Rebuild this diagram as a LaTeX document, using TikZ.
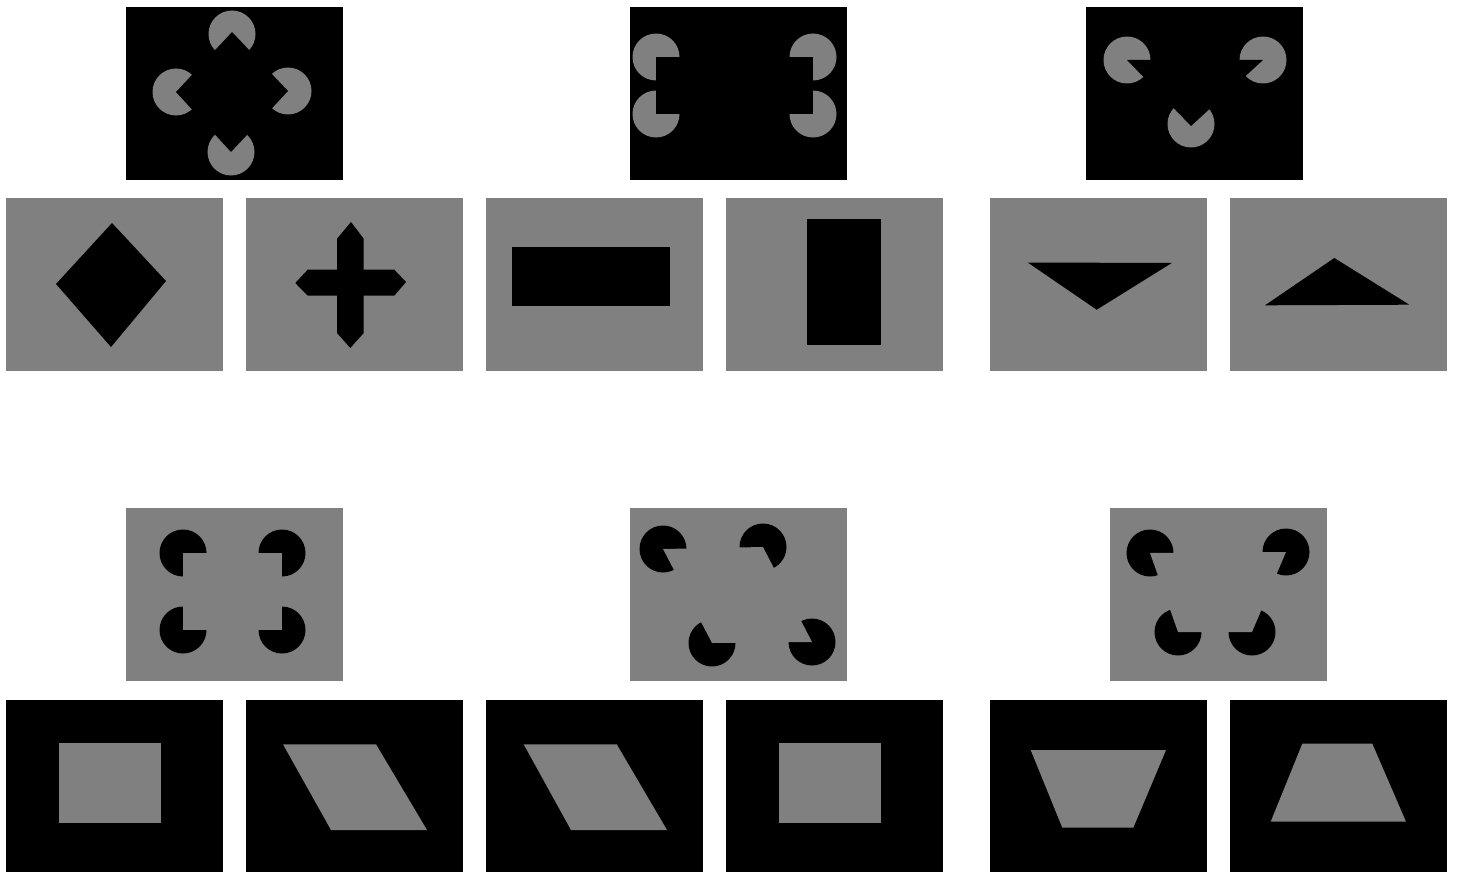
\documentclass[tikz,border=0pt]{standalone}
\definecolor{kgray}{RGB}{128,128,128}
\begin{document}
\begin{tikzpicture}[x=1pt,y=-1pt,
  darkpanel/.style={fill=black},
  greypanel/.style={fill=kgray},
  darkshape/.style={fill=black},
  greyshape/.style={fill=kgray}]
\useasboundingbox (0,0) rectangle (1458,872);
\fill[white] (0,0) rectangle (1458,872);
\def\R{23.5}
% ---------- row 1: inducers (grey pacmen on black) ----------
\fill[darkpanel] (126,7) rectangle (343,180);
\fill[greyshape] (232,34) circle (\R) (176,92) circle (\R) (288,91) circle (\R) (231,152) circle (\R);
\fill[darkshape] (232,32) -- (288,91) -- (231,152) -- (176,92) -- cycle;

\fill[darkpanel] (630,7) rectangle (847,180);
\fill[greyshape] (656,57) circle (\R) (813,57) circle (\R) (813,114) circle (\R) (656,114) circle (\R);
\fill[darkshape] (656,57) -- (813,57) -- (813,114) -- (656,114) -- cycle;

\fill[darkpanel] (1086,7) rectangle (1303,180);
\fill[greyshape] (1127,60) circle (\R) (1263,60) circle (\R) (1191,124) circle (\R);
\fill[darkshape] (1127,60) -- (1263,60) -- (1191,126) -- cycle;

% ---------- row 1: shapes (black on grey) ----------
\fill[greypanel] (6,198) rectangle (223,371);
\fill[darkshape] (112,223) -- (166,281) -- (111,347) -- (56,284) -- cycle;

\fill[greypanel] (246,198) rectangle (463,371);
\fill[darkshape] (351,222) -- (363.7,238.7) -- (363.7,269.7) -- (394.3,269.7) -- (406,282)
  -- (394.3,295.7) -- (363.7,295.7) -- (363.7,333) -- (350.3,348) -- (337,333)
  -- (337,295.7) -- (307.7,295.7) -- (295.3,283) -- (307.7,269.7) -- (337,269.7)
  -- (337,238.7) -- cycle;

\fill[greypanel] (486,198) rectangle (703,371);
\fill[darkshape] (511.7,247.3) rectangle (670.3,305.7);

\fill[greypanel] (726,198) rectangle (943,371);
\fill[darkshape] (807,218.7) rectangle (881.3,344.7);

\fill[greypanel] (990,198) rectangle (1207,371);
\fill[darkshape] (1027.7,262.5) -- (1171.7,263) -- (1096.7,309.7) -- cycle;

\fill[greypanel] (1230,198) rectangle (1447,371);
\fill[darkshape] (1265,305.3) -- (1409.3,304.7) -- (1334.3,258) -- cycle;

% ---------- row 2: inducers (black pacmen on grey) ----------
\fill[greypanel] (126,508) rectangle (343,681);
\fill[darkshape] (183,553) circle (\R) (282,553) circle (\R) (282,630) circle (\R) (183,630) circle (\R);
\fill[greyshape] (183,553) -- (282,553) -- (282,630) -- (183,630) -- cycle;

\fill[greypanel] (630,508) rectangle (847,681);
\fill[darkshape] (663,549) circle (\R) (763,547) circle (\R) (812,642) circle (\R) (712,643) circle (\R);
\fill[greyshape] (663,549) -- (763,547) -- (812,642) -- (712,643) -- cycle;

\fill[greypanel] (1110,508) rectangle (1327,681);
\fill[darkshape] (1150,553) circle (\R) (1286,552) circle (\R) (1252,632) circle (\R) (1178,632) circle (\R);
\fill[greyshape] (1150,553) -- (1286,552) -- (1252,632) -- (1178,632) -- cycle;

% ---------- row 2: shapes (grey on black) ----------
\fill[darkpanel] (6,700) rectangle (223,872);
\fill[greyshape] (59.3,743.3) rectangle (161,823.3);

\fill[darkpanel] (246,700) rectangle (463,872);
\fill[greyshape] (283,744.3) -- (376,744.3) -- (427,830) -- (331,830) -- cycle;

\fill[darkpanel] (486,700) rectangle (703,872);
\fill[greyshape] (523.7,744.3) -- (616.7,744.3) -- (667,830) -- (571,830) -- cycle;

\fill[darkpanel] (726,700) rectangle (943,872);
\fill[greyshape] (779.3,743.3) rectangle (881.3,823.3);

\fill[darkpanel] (990,700) rectangle (1207,872);
\fill[greyshape] (1030.7,750) -- (1166,750) -- (1133.3,827.7) -- (1062.3,827.7) -- cycle;

\fill[darkpanel] (1230,700) rectangle (1447,872);
\fill[greyshape] (1302.3,743.7) -- (1372.3,743.7) -- (1406,821.7) -- (1270.7,821.7) -- cycle;
\end{tikzpicture}
\end{document}
